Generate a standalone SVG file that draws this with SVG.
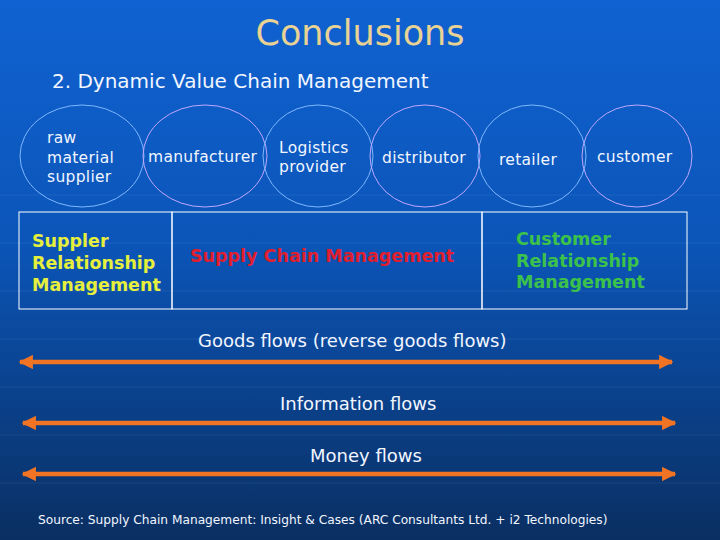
<svg xmlns="http://www.w3.org/2000/svg" width="720" height="540" viewBox="0 0 720 540">
<defs>
<linearGradient id="bg" x1="0" y1="0" x2="0" y2="1">
<stop offset="0" stop-color="#1062d2"/>
<stop offset="0.45" stop-color="#0b55b8"/>
<stop offset="1" stop-color="#0a2f62"/>
</linearGradient>
<marker id="ah" viewBox="0 0 10 10" refX="9" refY="5" markerWidth="3.2" markerHeight="3.2" orient="auto-start-reverse" markerUnits="strokeWidth">
<path d="M0,0 L10,5 L0,10 Z" fill="#f07424"/>
</marker>
<style>
.t{font-family:"DejaVu Sans",Verdana,sans-serif;fill:#f2f6ff}
.node{font-size:15.5px;letter-spacing:0.3px}
.b{font-family:"DejaVu Sans",Verdana,sans-serif;font-weight:bold;font-size:17.5px}
.e1{fill:none;stroke:#7fb8ff;stroke-width:1}
.e2{fill:none;stroke:#c0a8ff;stroke-width:1}
.flow{stroke:#f07424;stroke-width:4.5;fill:none;marker-start:url(#ah);marker-end:url(#ah)}
.flowlbl{font-size:18px}
</style>
</defs>
<rect width="720" height="540" fill="url(#bg)"/>
<g stroke="#ffffff" stroke-opacity="0.07" stroke-width="1">
<line x1="0" y1="195" x2="720" y2="195"/>
<line x1="0" y1="243" x2="720" y2="243"/>
<line x1="0" y1="291" x2="720" y2="291"/>
<line x1="0" y1="339" x2="720" y2="339"/>
<line x1="0" y1="387" x2="720" y2="387"/>
<line x1="0" y1="435" x2="720" y2="435"/>
<line x1="0" y1="483" x2="720" y2="483"/>
</g>
<text class="t" x="360" y="45" text-anchor="middle" font-size="35" style="fill:#e8d294">Conclusions</text>
<text class="t" x="52" y="88" font-size="20">2. Dynamic Value Chain Management</text>

<g id="raw-material-supplier">
<ellipse class="e1" cx="82" cy="156" rx="62" ry="51"/>
<text class="t node" x="47" y="143">raw</text>
<text class="t node" x="47" y="163">material</text>
<text class="t node" x="47" y="182">supplier</text>
</g>
<g id="manufacturer">
<ellipse class="e2" cx="205" cy="156" rx="62" ry="51"/>
<text class="t node" x="148" y="162">manufacturer</text>
</g>
<g id="logistics-provider">
<ellipse class="e1" cx="318" cy="156" rx="55" ry="51"/>
<text class="t node" x="279" y="153">Logistics</text>
<text class="t node" x="279" y="172">provider</text>
</g>
<g id="distributor">
<ellipse class="e2" cx="425" cy="156" rx="55" ry="51"/>
<text class="t node" x="382" y="163">distributor</text>
</g>
<g id="retailer">
<ellipse class="e1" cx="532" cy="156" rx="54" ry="51"/>
<text class="t node" x="499" y="165">retailer</text>
</g>
<g id="customer">
<ellipse class="e2" cx="637" cy="156" rx="55" ry="51"/>
<text class="t node" x="597" y="162">customer</text>
</g>

<g id="srm">
<rect x="19" y="212" width="153" height="97" fill="none" stroke="#ffffff" stroke-width="1"/>
<text class="b" x="32" y="247" fill="#e6f03c">Suppler</text>
<text class="b" x="32" y="269" fill="#e6f03c">Relationship</text>
<text class="b" x="32" y="291" fill="#e6f03c">Management</text>
</g>
<g id="scm">
<rect x="172" y="212" width="310" height="97" fill="none" stroke="#ffffff" stroke-width="1"/>
<text class="b" x="190" y="262" fill="#e01e2e">Supply Chain Management</text>
</g>
<g id="crm">
<rect x="482" y="212" width="205" height="97" fill="none" stroke="#ffffff" stroke-width="1"/>
<text class="b" x="516" y="245" fill="#3cc24a">Customer</text>
<text class="b" x="516" y="267" fill="#3cc24a">Relationship</text>
<text class="b" x="516" y="288" fill="#3cc24a">Management</text>
</g>

<g id="connectors">
<line class="flow" x1="20" y1="362" x2="672" y2="362"/>
<line class="flow" x1="23" y1="423" x2="675" y2="423"/>
<line class="flow" x1="23" y1="474" x2="675" y2="474"/>
</g>
<text class="t flowlbl" x="198" y="347">Goods flows (reverse goods flows)</text>
<text class="t flowlbl" x="280" y="410">Information flows</text>
<text class="t flowlbl" x="310" y="462">Money flows</text>
<text class="t" x="38" y="524" font-size="12.2">Source: Supply Chain Management: Insight &amp; Cases (ARC Consultants Ltd. + i2 Technologies)</text>
</svg>
